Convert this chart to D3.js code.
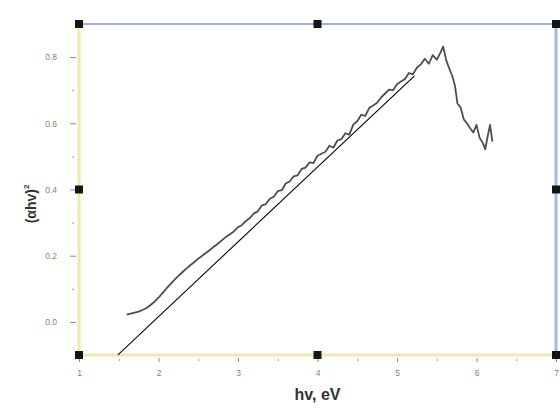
<!DOCTYPE html>
<html>
<head>
<meta charset="utf-8">
<script src="https://cdn.jsdelivr.net/npm/d3@7"></script>
<style>
  html, body { margin: 0; padding: 0; background: #fff; }
  svg { display: block; font-family: Arial, "Liberation Sans", sans-serif; }
</style>
</head>
<body>
<svg id="chart" width="560" height="408"></svg>
<script>
// Photon energy (eV)
const hv = [
  1.60, 1.65, 1.70, 1.75, 1.80, 1.85, 1.90, 1.95, 2.00, 2.05,
  2.10, 2.15, 2.20, 2.25, 2.30, 2.35, 2.40, 2.45, 2.50, 2.55,
  2.60, 2.65, 2.70, 2.75, 2.80, 2.85, 2.90, 2.95, 3.00, 3.05,
  3.10, 3.15, 3.20, 3.25, 3.30, 3.35, 3.40, 3.45, 3.50, 3.55,
  3.60, 3.65, 3.70, 3.75, 3.80, 3.85, 3.90, 3.95, 4.00, 4.05,
  4.10, 4.15, 4.20, 4.25, 4.30, 4.35, 4.40, 4.45, 4.50, 4.55,
  4.60, 4.65, 4.70, 4.75, 4.80, 4.85, 4.90, 4.95, 5.00, 5.05,
  5.10, 5.15, 5.20, 5.25, 5.30, 5.35, 5.40, 5.45, 5.50, 5.55,
  5.58, 5.62, 5.65, 5.70, 5.73, 5.76, 5.80, 5.84, 5.88, 5.92,
  5.96, 6.00, 6.04, 6.08, 6.11, 6.14, 6.17, 6.20
];
// (alpha*h*nu)^2
const alphaHv2 = [
  0.022, 0.025, 0.028, 0.031, 0.036, 0.042, 0.051, 0.061, 0.073, 0.087,
  0.101, 0.114, 0.127, 0.139, 0.150, 0.161, 0.171, 0.181, 0.191, 0.200,
  0.209, 0.218, 0.228, 0.237, 0.247, 0.257, 0.265, 0.274, 0.286, 0.293,
  0.305, 0.314, 0.328, 0.334, 0.352, 0.356, 0.372, 0.378, 0.395, 0.398,
  0.418, 0.424, 0.440, 0.443, 0.462, 0.466, 0.482, 0.480, 0.502, 0.508,
  0.514, 0.532, 0.526, 0.548, 0.552, 0.570, 0.566, 0.596, 0.606, 0.626,
  0.622, 0.646, 0.654, 0.662, 0.678, 0.690, 0.702, 0.700, 0.718, 0.726,
  0.734, 0.752, 0.748, 0.768, 0.778, 0.795, 0.780, 0.806, 0.792, 0.815,
  0.832, 0.790, 0.770, 0.740, 0.712, 0.660, 0.648, 0.612, 0.600, 0.585,
  0.572, 0.595, 0.556, 0.540, 0.522, 0.560, 0.595, 0.545
];

// Linear fit of the absorption edge: y = fitSlope * (hv - bandGap)
const fitSlope = 0.226;
const bandGap = 1.93;
const fitRange = [1.49, 5.22];

// Axis ticks
const xTicks = [1, 2, 3, 4, 5, 6, 7];
const xMinorTicks = [1.5, 2.5, 3.5, 4.5, 5.5, 6.5];
const yTicks = [0.0, 0.2, 0.4, 0.6, 0.8];
const yMinorTicks = [0.1, 0.3, 0.5, 0.7];

const svg = d3.select("#chart");
const plotLeft = 79, plotRight = 556, plotTop = 24, plotBottom = 355;

const x = d3.scaleLinear().domain([1, 7]).range([plotLeft, plotRight]);
const y = d3.scaleLinear().domain([-0.1, 0.9]).range([plotBottom, plotTop]);

const defs = svg.append("defs");
defs.append("filter").attr("id", "soft")
  .attr("x", "-5%").attr("y", "-5%").attr("width", "110%").attr("height", "110%")
  .append("feGaussianBlur").attr("stdDeviation", 0.6);

// Frame: yellow left/bottom axes, blue top/right axes
svg.append("line").attr("x1", plotLeft).attr("x2", plotRight).attr("y1", plotTop).attr("y2", plotTop)
  .attr("stroke", "#9fb2e2").attr("stroke-width", 2);
svg.append("line").attr("x1", plotRight).attr("x2", plotRight).attr("y1", plotTop).attr("y2", plotBottom)
  .attr("stroke", "#9dbbe8").attr("stroke-width", 3);
svg.append("line").attr("x1", plotLeft).attr("x2", plotLeft).attr("y1", plotTop).attr("y2", plotBottom)
  .attr("stroke", "#f2eaa8").attr("stroke-width", 3);
svg.append("line").attr("x1", plotLeft).attr("x2", plotRight).attr("y1", plotBottom).attr("y2", plotBottom)
  .attr("stroke", "#f2eaa8").attr("stroke-width", 3);

// Y axis
const yAxis = svg.append("g").attr("transform", `translate(${plotLeft - 3},0)`)
  .call(d3.axisLeft(y).tickValues(yTicks).tickFormat(d3.format(".1f"))
    .tickSize(6).tickPadding(13).tickSizeOuter(0));
yAxis.select(".domain").remove();
yAxis.selectAll("line").attr("stroke", "#8a8a8a");
yAxis.selectAll("text").attr("fill", "#808080").attr("font-size", 8.5);

const yMinor = svg.append("g").attr("transform", `translate(${plotLeft - 5},0)`)
  .call(d3.axisLeft(y).tickValues(yMinorTicks).tickSize(2).tickFormat(""));
yMinor.select(".domain").remove();
yMinor.selectAll("line").attr("stroke", "#9a9a9a");

// X axis
const xAxis = svg.append("g").attr("transform", `translate(0,${plotBottom + 3})`)
  .call(d3.axisBottom(x).tickValues(xTicks).tickFormat(d3.format("d"))
    .tickSize(4).tickPadding(8).tickSizeOuter(0));
xAxis.select(".domain").remove();
xAxis.selectAll("line").attr("stroke", "#8a8a8a");
xAxis.selectAll("text").attr("fill", "#808080").attr("font-size", 8.5);

const xMinor = svg.append("g").attr("transform", `translate(0,${plotBottom + 4})`)
  .call(d3.axisBottom(x).tickValues(xMinorTicks).tickSize(2).tickFormat(""));
xMinor.select(".domain").remove();
xMinor.selectAll("line").attr("stroke", "#9a9a9a");

// Selection handles on the frame
const handles = [
  [1, 0.9], [4, 0.9], [7, 0.9],
  [1, 0.4], [7, 0.4],
  [1, -0.1], [4, -0.1], [7, -0.1]
];
svg.append("g").selectAll("rect").data(handles).join("rect")
  .attr("x", d => x(d[0]) - 4).attr("y", d => y(d[1]) - 4)
  .attr("width", 8).attr("height", 8).attr("fill", "#151515");

// Measured curve
const line = d3.line().x((d, i) => x(hv[i])).y(d => y(d));
svg.append("path").datum(alphaHv2)
  .attr("d", line)
  .attr("fill", "none").attr("stroke", "#4e4e4e").attr("stroke-width", 1.8)
  .attr("stroke-linejoin", "round")
  .attr("filter", "url(#soft)");

// Linear extrapolation of the edge
svg.append("line")
  .attr("x1", x(fitRange[0])).attr("y1", y(fitSlope * (fitRange[0] - bandGap)))
  .attr("x2", x(fitRange[1])).attr("y2", y(fitSlope * (fitRange[1] - bandGap)))
  .attr("stroke", "#000").attr("stroke-width", 1.1);

// Legend sample line
svg.append("line").attr("x1", 463).attr("x2", 536).attr("y1", 9).attr("y2", 9)
  .attr("stroke", "#5a5a5a").attr("stroke-width", 1.8).attr("filter", "url(#soft)");

// Axis titles
svg.append("text")
  .attr("x", (plotLeft + plotRight) / 2).attr("y", 400)
  .attr("text-anchor", "middle").attr("font-size", 16).attr("font-weight", "bold")
  .attr("fill", "#333")
  .text("hv, eV");

const yTitle = svg.append("text")
  .attr("transform", "translate(36,204) rotate(-90)")
  .attr("text-anchor", "middle").attr("font-size", 14).attr("font-weight", "bold")
  .attr("fill", "#333");
yTitle.append("tspan").text("(\u03b1hv)");
yTitle.append("tspan").attr("dy", -7).attr("font-size", 8).text("2");
</script>
</body>
</html>
